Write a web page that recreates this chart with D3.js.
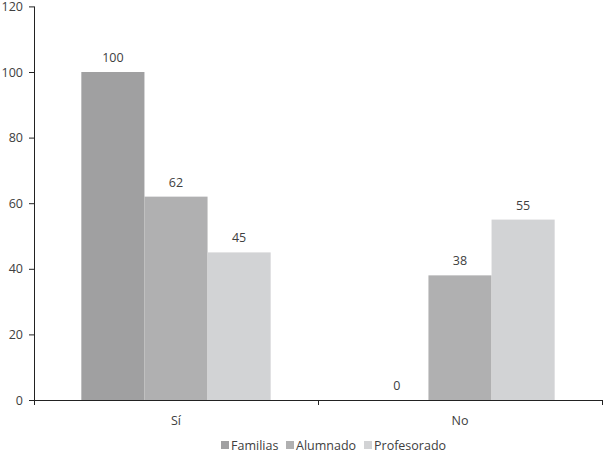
<!DOCTYPE html>
<html>
<head>
<meta charset="utf-8">
<script src="https://cdn.jsdelivr.net/npm/d3@7"></script>
<style>
  body { margin: 0; background: #fff; }
  svg text { font-family: "Open Sans", sans-serif; fill: #404040; }
</style>
</head>
<body>
<svg></svg>
<script>
let categories = ['Sí', 'No'];
let series = ['Familias', 'Alumnado', 'Profesorado'];
let familias = [100, 0];
let alumnado = [62, 38];
let profesorado = [45, 55];
let yTicks = [0, 20, 40, 60, 80, 100, 120];

let colors = ['#a0a0a1', '#b0b0b1', '#d2d3d5'];
let values = [familias, alumnado, profesorado];

let width = 604;
let height = 456;
let plotLeft = 34;
let plotRight = 602;
let plotTop = 6.4;
let plotBottom = 400;
let fontSize = 12.5;

let svg = d3.select('svg')
            .attr('width', width)
            .attr('height', height);

let xScale = d3.scaleBand()
                .domain(categories)
                .range([plotLeft, plotRight]);

let innerScale = d3.scaleBand()
                .domain(series)
                .range([0, xScale.bandwidth()])
                .paddingOuter(0.75);

let yScale = d3.scaleLinear()
                .domain([0, 120])
                .range([plotBottom, plotTop]);

// Bars
series.forEach((s, si) => {
  let g = svg.append('g');
  g.selectAll('rect')
    .data(categories)
    .enter()
    .append('rect')
    .attr('x', (c) => xScale(c) + innerScale(s))
    .attr('width', innerScale.bandwidth())
    .attr('y', (c, i) => yScale(values[si][i]))
    .attr('height', (c, i) => plotBottom - yScale(values[si][i]))
    .attr('fill', colors[si]);

  g.selectAll('text')
    .data(categories)
    .enter()
    .append('text')
    .attr('x', (c) => xScale(c) + innerScale(s) + innerScale.bandwidth() / 2)
    .attr('y', (c, i) => yScale(values[si][i]) - 10)
    .attr('text-anchor', 'middle')
    .attr('font-size', fontSize)
    .text((c, i) => values[si][i]);
});

// y axis
let yAxis = d3.axisLeft(yScale)
              .tickValues(yTicks)
              .tickSize(5)
              .tickPadding(6);

svg.append('g')
    .attr('transform', 'translate(' + plotLeft + ',0)')
    .call(yAxis)
    .call(g => g.selectAll('path, line').attr('stroke', '#222'))
    .call(g => g.selectAll('text').attr('font-size', fontSize).style('font-family', '"Open Sans", sans-serif').attr('fill', '#404040'))
    .call(g => g.select('.domain').attr('d', 'M0.5,' + plotTop + 'V' + plotBottom));

// x axis
let xAxis = d3.axisBottom(xScale).tickSize(0).tickPadding(16);
let xg = svg.append('g')
    .attr('transform', 'translate(0,' + plotBottom + ')')
    .call(xAxis)
    .call(g => g.select('.domain').attr('d', 'M' + plotLeft + ',0.5H' + plotRight).attr('stroke', '#222'))
    .call(g => g.selectAll('text').attr('font-size', fontSize).style('font-family', '"Open Sans", sans-serif').attr('fill', '#404040'));

// category boundary ticks
let bounds = [xScale.range()[0], xScale('No'), xScale.range()[1]];
xg.selectAll('.bound')
  .data(bounds)
  .enter()
  .append('line')
  .attr('x1', d => Math.round(d) + 0.5)
  .attr('x2', d => Math.round(d) + 0.5)
  .attr('y1', 0)
  .attr('y2', 5)
  .attr('stroke', '#222');

// Legend
let legendX = [221, 286, 364];
let legend = svg.append('g');
series.forEach((s, i) => {
  legend.append('rect')
    .attr('x', legendX[i])
    .attr('y', 441)
    .attr('width', 8)
    .attr('height', 8)
    .attr('fill', colors[i]);
  legend.append('text')
    .attr('x', legendX[i] + 10)
    .attr('y', 449.5)
    .attr('font-size', fontSize)
    .text(s);
});
</script>
</body>
</html>
